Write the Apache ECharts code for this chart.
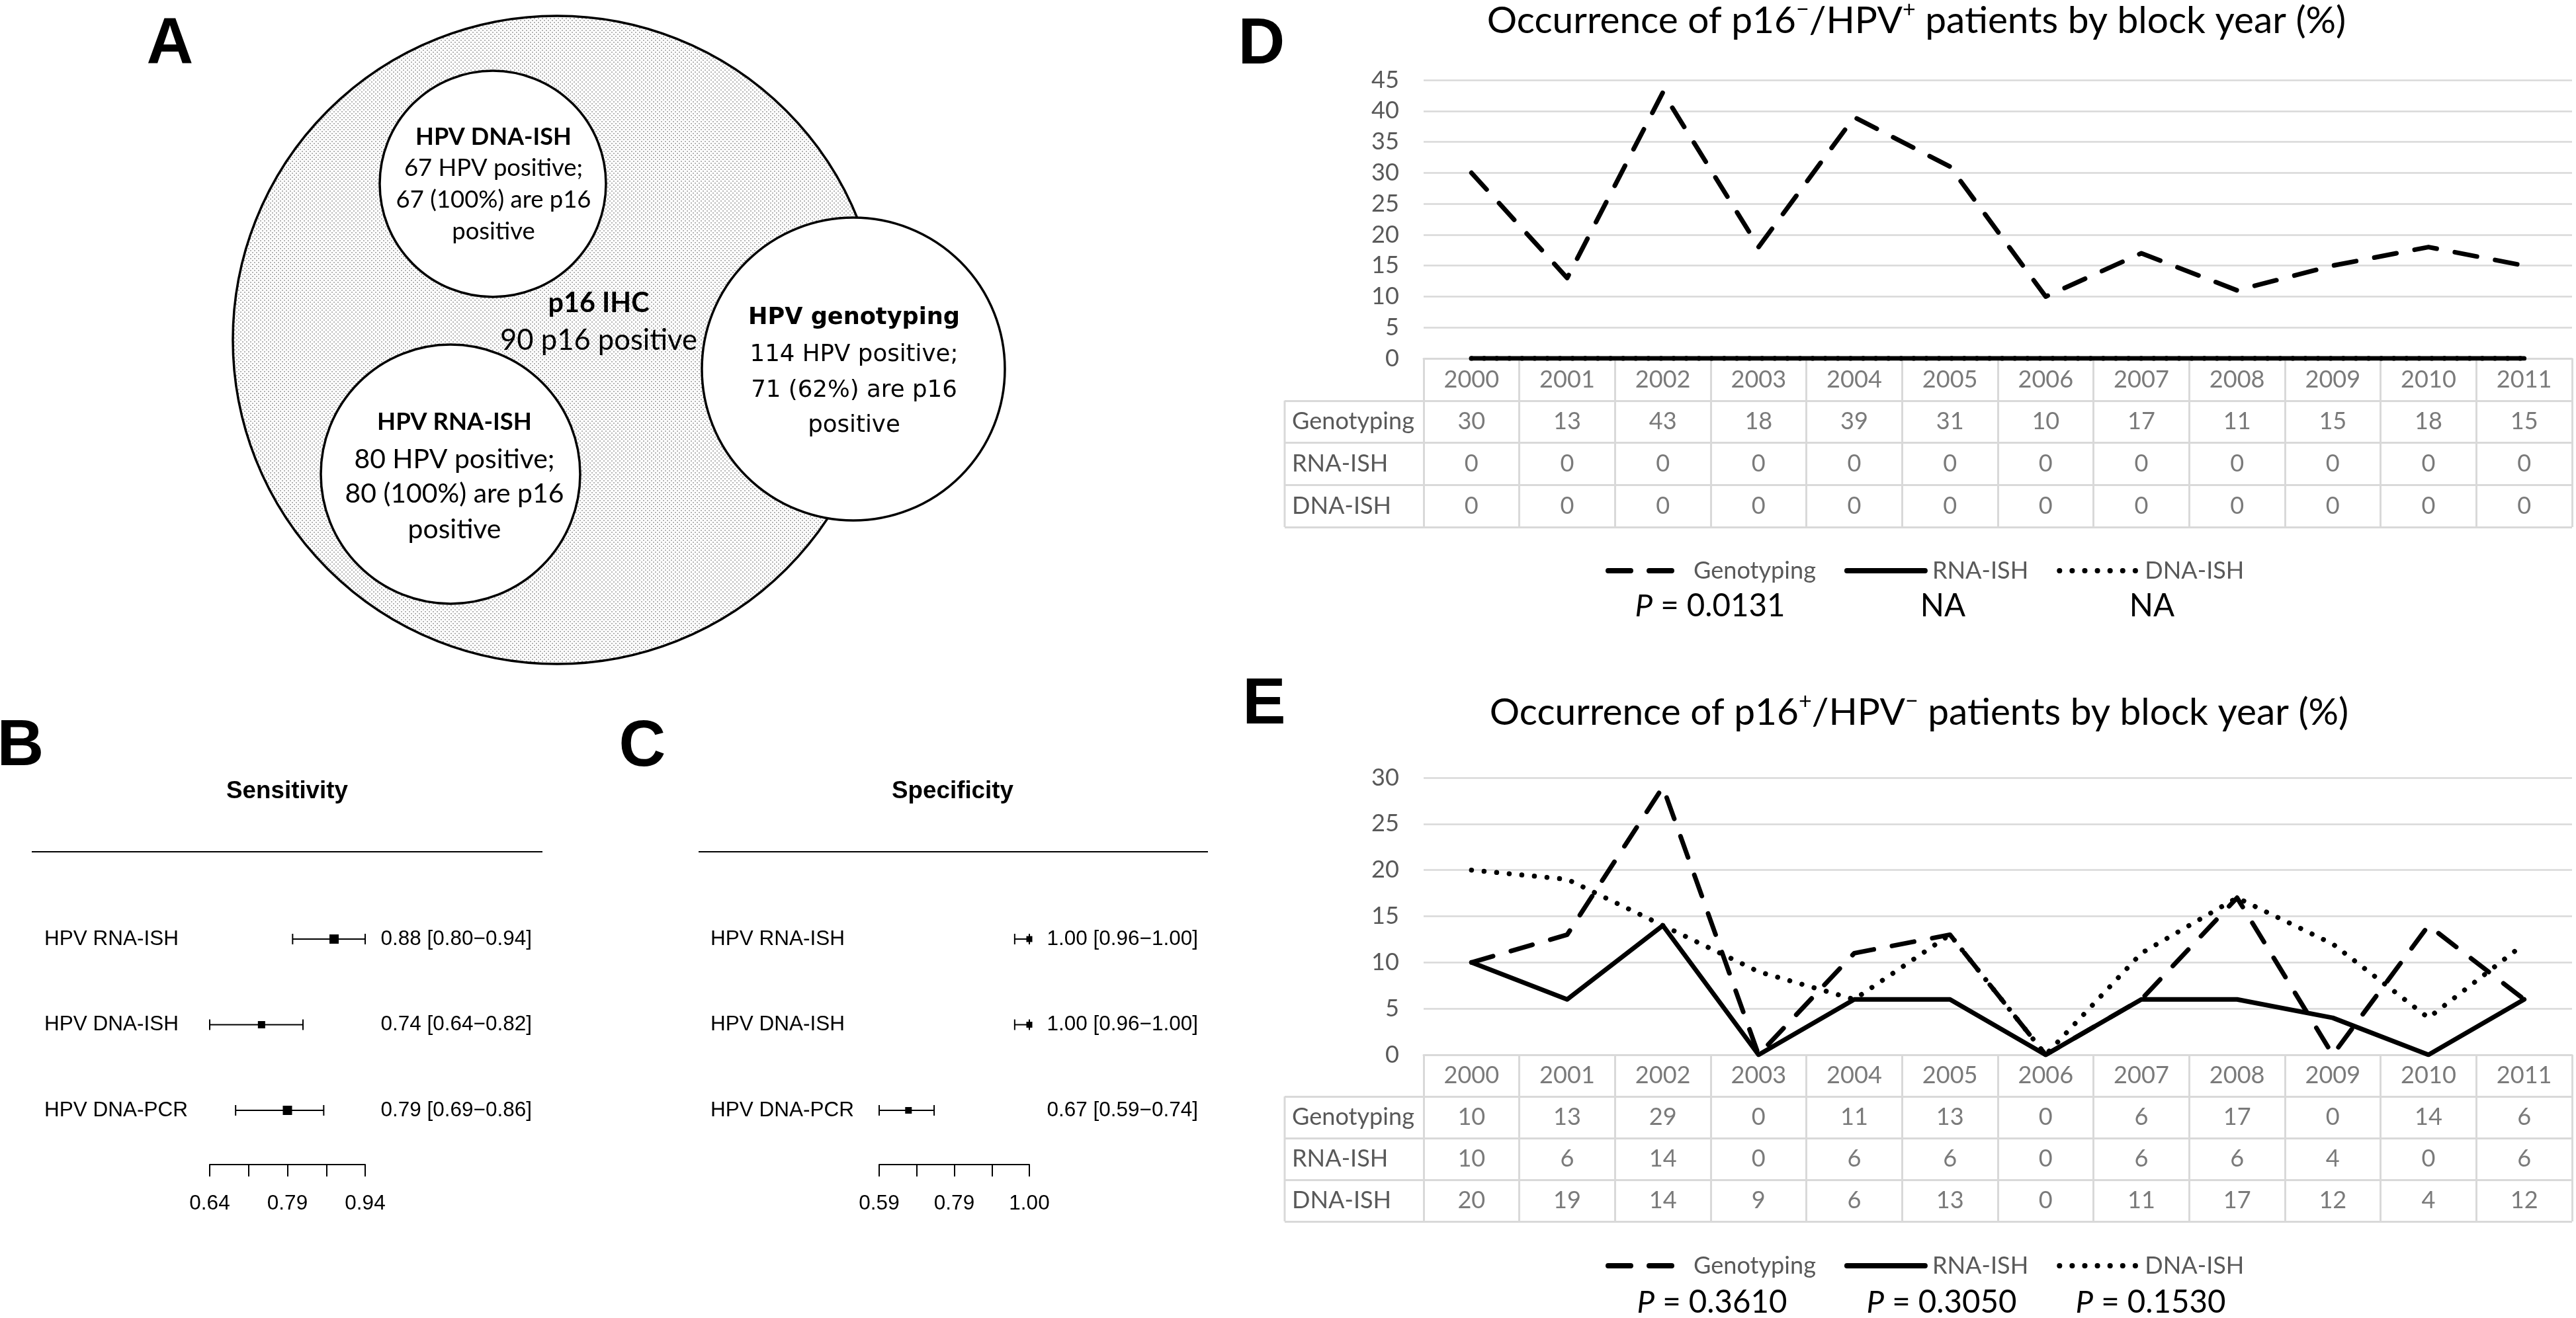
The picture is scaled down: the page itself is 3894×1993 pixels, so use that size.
<!DOCTYPE html>
<html><head><meta charset="utf-8">
<script src="https://cdn.jsdelivr.net/npm/echarts@6/dist/echarts.min.js"></script>
<style>html,body{margin:0;padding:0;background:#fff}#c{width:3894px;height:1993px}</style>
</head><body><div id="c"></div>
<script>
// ---------------- DATA ----------------
const years = ['2000','2001','2002','2003','2004','2005','2006','2007','2008','2009','2010','2011'];
const tableRows = ['Genotyping','RNA-ISH','DNA-ISH'];
// Panel D: p16-/HPV+ (%)
const dGenotyping = [30,13,43,18,39,31,10,17,11,15,18,15];
const dRNA = [0,0,0,0,0,0,0,0,0,0,0,0];
const dDNA = [0,0,0,0,0,0,0,0,0,0,0,0];
const dPValues = ['0.0131','NA','NA'];
// Panel E: p16+/HPV- (%)
const eGenotyping = [10,13,29,0,11,13,0,6,17,0,14,6];
const eRNA = [10,6,14,0,6,6,0,6,6,4,0,6];
const eDNA = [20,19,14,9,6,13,0,11,17,12,4,12];
const ePValues = ['0.3610','0.3050','0.1530'];
// Panels B / C: forest plots
const methods = ['HPV RNA-ISH','HPV DNA-ISH','HPV DNA-PCR'];
const sensEst = [0.88,0.74,0.79];
const sensLo  = [0.80,0.64,0.69];
const sensHi  = [0.94,0.82,0.86];
const specEst = [1.00,1.00,0.67];
const specLo  = [0.96,0.96,0.59];
const specHi  = [1.00,1.00,0.74];
const sensTickLabels = ['0.64','0.79','0.94'];
const specTickLabels = ['0.59','0.79','1.00'];
// Panel A: Venn texts
const vennDNA  = ['HPV DNA-ISH','67 HPV positive;','67 (100%) are p16','positive'];
const vennRNA  = ['HPV RNA-ISH','80 HPV positive;','80 (100%) are p16','positive'];
const vennGeno = ['HPV genotyping','114 HPV positive;','71 (62%) are p16','positive'];
const vennIHC  = ['p16 IHC','90 p16 positive'];

// ---------------- STYLE HELPERS ----------------
const LATO = "Lato, 'Open Sans', sans-serif";
const DV = "'DejaVu Sans', sans-serif";
const AR = "'Liberation Sans', Arial, sans-serif";
const GRID_GRAY = '#d9d9d9';
const TXT_GRAY = '#595959';
const mctx = document.createElement('canvas').getContext('2d');
function measure(text, family, weight, size) {
  mctx.font = (weight || 'normal') + ' ' + size + 'px ' + family;
  return mctx.measureText(text).width;
}
function fit(text, target, family, weight) {
  return 100 * target / measure(text, family, weight, 100);
}

// Venn sizes
const fsDNAb = fit(vennDNA[0], 236, LATO, 'bold');
const fsDNA  = fit(vennDNA[2], 295, LATO);
const fsRNAb = fit(vennRNA[0], 234, LATO, 'bold');
const fsRNA  = fit(vennRNA[2], 331, LATO);
const fsIHCb = fit(vennIHC[0], 153, LATO, 'bold');
const fsIHC  = fit(vennIHC[1], 298, LATO);
const fsGenb = fit(vennGeno[0], 320, DV, 'bold');
const fsGen  = fit(vennGeno[1], 315, DV);
// Forest sizes
const fsFor  = fit('HPV DNA-PCR', 217, AR);
const fsHead = fit('Sensitivity', 184, AR, 'bold');
// Line chart sizes
const fsTab  = fit('Genotyping', 185, LATO);
const fsP    = fit('P = 0.0131', 229, LATO);
const titleW = measure('Occurrence of p16/HPV patients by block year (%)', LATO, 'normal', 100) + 0.6 * measure('\u2212+', LATO, 'normal', 100);
const fsTitle = 100 * 1299 / titleW;

// dotted fill pattern for p16 IHC circle
const pat = document.createElement('canvas'); pat.width = 6; pat.height = 6;
const pc = pat.getContext('2d');
pc.fillStyle = '#fff'; pc.fillRect(0,0,6,6);
pc.fillStyle = '#b4b4b4'; pc.fillRect(0,0,2,2); pc.fillRect(3,3,2,2);

// ---------------- GRAPHIC (Venn, headings, titles, P-values) ----------------
const G = [];
function txt(x, y, text, size, family, weight, extra) {
  G.push({type:'text', x:x, y:y, silent:true, z:10, style:Object.assign({
    text:text, fontSize:size, fontFamily:family, fontWeight:weight || 'normal',
    fill:'#000', align:'center', verticalAlign:'middle'}, extra || {})});
}
const circ = (cx, cy, r, fill) => G.push({type:'circle', silent:true, shape:{cx:cx, cy:cy, r:r},
  style:{fill:fill, stroke:'#000', lineWidth:3.5}});
circ(842, 514, 490, {image:pat, repeat:'repeat'});
circ(745, 278, 171, '#fff');
circ(681, 717, 196, '#fff');
circ(1290, 558, 229, '#fff');
[207,254,302,350].forEach((y,i)=>txt(746, y, vennDNA[i], i ? fsDNA : fsDNAb, LATO, i ? 'normal' : 'bold'));
[638,695,747,801].forEach((y,i)=>txt(687, y, vennRNA[i], i ? fsRNA : fsRNAb, LATO, i ? 'normal' : 'bold'));
[481,537,591,644].forEach((y,i)=>txt(1291, y, vennGeno[i], i ? fsGen : fsGenb, DV, i ? 'normal' : 'bold'));
[459,515].forEach((y,i)=>txt(905, y, vennIHC[i], i ? fsIHC : fsIHCb, LATO, i ? 'normal' : 'bold'));

// panel letters
[['A',257,68],['B',31,1130],['C',971,1131],['D',1907,69],['E',1911,1067]].forEach(p=>txt(p[1], p[2], p[0], 98, AR, 'bold'));

// forest headings
txt(434, 1197, 'Sensitivity', fsHead, AR, 'bold');
txt(1440, 1197, 'Specificity', fsHead, AR, 'bold');
G.push({type:'line', silent:true, shape:{x1:48, y1:1288, x2:820, y2:1288}, style:{stroke:'#000', lineWidth:2}});
G.push({type:'line', silent:true, shape:{x1:1056, y1:1288, x2:1826, y2:1288}, style:{stroke:'#000', lineWidth:2}});

// chart titles with superscripts
const supRich = {s:{fontSize:fsTitle*0.6, fontFamily:LATO, verticalAlign:'top', lineHeight:fsTitle*0.6, fill:'#000'}};
txt(2897, 32, 'Occurrence of p16{s|\u2212}/HPV{s|+} patients by block year (%)', fsTitle, LATO, 'normal', {rich:supRich, lineHeight:fsTitle*1.2});
txt(2901, 1078, 'Occurrence of p16{s|+}/HPV{s|\u2212} patients by block year (%)', fsTitle, LATO, 'normal', {rich:supRich, lineHeight:fsTitle*1.2});

// P-values
const pRich = {i:{fontStyle:'italic', fontSize:fsP, fontFamily:LATO, fill:'#000'}};
const pText = v => v === 'NA' ? 'NA' : '{i|P} = ' + v;
[2585,2937,3253].forEach((x,i)=>txt(x, 917, pText(dPValues[i]), fsP, LATO, 'normal', {rich:pRich}));
[2588,2935,3251].forEach((x,i)=>txt(x, 1970, pText(ePValues[i]), fsP, LATO, 'normal', {rich:pRich}));

// left border of the data tables' label column
G.push({type:'line', silent:true, shape:{x1:1942, y1:542+255/4, x2:1942, y2:797}, style:{stroke:GRID_GRAY, lineWidth:3}});
G.push({type:'line', silent:true, shape:{x1:1942, y1:1595+252/4, x2:1942, y2:1847}, style:{stroke:GRID_GRAY, lineWidth:3}});

// ---------------- AXES ----------------
const forestRowMax = 341 / 129.5;
function forestX(gi, min, max, interval, labels) {
  return {gridIndex:gi, type:'value', position:'bottom', min:min, max:max, interval:interval,
    axisLine:{show:true, onZero:false, lineStyle:{color:'#000', width:2}},
    axisTick:{show:true, length:18, lineStyle:{color:'#000', width:2}},
    splitLine:{show:false},
    axisLabel:{margin:44, fontSize:fsFor, fontFamily:AR, color:'#000',
      formatter:(v,i)=> (i % 2 === 0 && labels[i/2]) ? labels[i/2] : ''}};
}
function forestY(gi, pos, margin, fmt) {
  return {gridIndex:gi, type:'value', position:pos, min:0, max:forestRowMax, interval:1, inverse:true,
    axisLine:{show:false, onZero:false}, axisTick:{show:false}, splitLine:{show:false},
    axisLabel:{margin:margin, align:pos === 'left' ? 'left' : 'right', fontSize:fsFor, fontFamily:AR, color:'#000',
      formatter:v => (Number.isInteger(v) && v < methods.length) ? fmt(v) : ''}};
}
const ciText = (e,l,h) => i => e[i].toFixed(2) + ' [' + l[i].toFixed(2) + '\u2212' + h[i].toFixed(2) + ']';

function chartX(gi) {
  return {gridIndex:gi, type:'category', data:years, boundaryGap:true,
    axisLine:{show:true, lineStyle:{color:GRID_GRAY, width:3}}, axisTick:{show:false},
    axisLabel:{show:false}, splitLine:{show:false}};
}
function tableX(gi) {
  return {gridIndex:gi, type:'category', data:years, position:'top', boundaryGap:true,
    axisLine:{show:false}, axisTick:{show:false}, axisLabel:{show:false},
    splitLine:{show:true, interval:0, lineStyle:{color:GRID_GRAY, width:3}}};
}
function chartY(gi, max) {
  return {gridIndex:gi, type:'value', min:0, max:max, interval:5,
    axisLine:{show:false}, axisTick:{show:false},
    axisLabel:{margin:37, fontSize:fsTab, fontFamily:LATO, color:TXT_GRAY},
    splitLine:{show:true, lineStyle:{color:GRID_GRAY, width:2.5}}};
}
function tableY(gi) {
  return {gridIndex:gi, type:'category', data:[''].concat(tableRows), inverse:true, boundaryGap:true,
    axisLine:{show:false},
    axisTick:{show:true, length:210, interval:(i)=> i > 0, lineStyle:{color:GRID_GRAY, width:3}},
    axisLabel:{interval:0, align:'left', margin:199, fontSize:fsTab, fontFamily:LATO, color:TXT_GRAY},
    splitLine:{show:true, interval:0, lineStyle:{color:GRID_GRAY, width:3}}};
}

// ---------------- SERIES ----------------
const lineStyles = {
  'Genotyping': {color:'#000', width:7, type:[34,28], cap:'round', join:'round'},
  'RNA-ISH':    {color:'#000', width:7, type:'solid', cap:'round', join:'round'},
  'DNA-ISH':    {color:'#000', width:7.5, type:[0.1,19], cap:'round', join:'round'}
};
function lineSeries(valuesList, xi, yi) {
  return tableRows.map((name,k)=>({
    type:'line', name:name, xAxisIndex:xi, yAxisIndex:yi, data:valuesList[k],
    symbol:'none', showSymbol:false, silent:true, lineStyle:lineStyles[name], itemStyle:{color:'#000'}
  }));
}
function tableSeries(valuesList, xi, yi) {
  const cells = [];
  years.forEach((y,c)=>cells.push([c, 0, y]));
  valuesList.forEach((arr,r)=>arr.forEach((v,c)=>cells.push([c, r+1, String(v)])));
  return {type:'scatter', xAxisIndex:xi, yAxisIndex:yi, data:cells, symbolSize:1, silent:true,
    itemStyle:{color:'rgba(0,0,0,0)'},
    label:{show:true, position:'inside', formatter:p=>String(p.value[2]), fontSize:fsTab, fontFamily:LATO, color:TXT_GRAY}};
}
function forestSeries(est, lo, hi, boxes, xi, yi) {
  return {type:'custom', xAxisIndex:xi, yAxisIndex:yi, clip:false, silent:true,
    data: est.map((e,i)=>[e, lo[i], hi[i], i]),
    encode:{x:[0,1,2], y:3},
    renderItem:function(params, api) {
      const r = api.value(3);
      const pe = api.coord([api.value(0), r]);
      const pl = api.coord([api.value(1), r]);
      const ph = api.coord([api.value(2), r]);
      const s = boxes[params.dataIndex];
      const cap = 8;
      const st = {stroke:'#000', lineWidth:2};
      return {type:'group', children:[
        {type:'line', shape:{x1:pl[0], y1:pl[1], x2:ph[0], y2:ph[1]}, style:st},
        {type:'line', shape:{x1:pl[0], y1:pl[1]-cap, x2:pl[0], y2:pl[1]+cap}, style:st},
        {type:'line', shape:{x1:ph[0], y1:ph[1]-cap, x2:ph[0], y2:ph[1]+cap}, style:st},
        {type:'rect', shape:{x:pe[0]-s/2, y:pe[1]-s/2, width:s, height:s}, style:{fill:'#000'}}
      ]};
    }};
}

const legendBase = (top) => ({top:top, left:2427, orient:'horizontal', padding:0, itemWidth:118, itemHeight:24,
  itemGap:43, selectedMode:false, data:tableRows,
  itemStyle:{color:'rgba(0,0,0,0)', borderWidth:0, opacity:0},
  lineStyle:{width:8},
  textStyle:{fontSize:fsTab, fontFamily:LATO, color:TXT_GRAY, padding:[0,0,0,6]}});

const option = {
  animation:false,
  backgroundColor:'#fff',
  grid:[
    {left:317, top:1420, width:235, height:341, outerBoundsMode:'none'},
    {left:1329, top:1420, width:227, height:341, outerBoundsMode:'none'},
    {left:2152, top:121, width:1736, height:421, outerBoundsMode:'none'},
    {left:2152, top:542, width:1736, height:255, outerBoundsMode:'none'},
    {left:2152, top:1176, width:1736, height:419, outerBoundsMode:'none'},
    {left:2152, top:1595, width:1736, height:252, outerBoundsMode:'none'}
  ],
  xAxis:[
    forestX(0, 0.64, 0.94, 0.075, sensTickLabels),
    forestX(1, 0.59, 1.00, 0.1025, specTickLabels),
    chartX(2), tableX(3), chartX(4), tableX(5)
  ],
  yAxis:[
    forestY(0, 'left', 250, i => methods[i]),
    forestY(0, 'right', 252, ciText(sensEst, sensLo, sensHi)),
    forestY(1, 'left', 255, i => methods[i]),
    forestY(1, 'right', 255, ciText(specEst, specLo, specHi)),
    chartY(2, 45), tableY(3), chartY(4, 30), tableY(5)
  ],
  legend:[legendBase(857-12), legendBase(1908-12)],
  series:[].concat(
    [forestSeries(sensEst, sensLo, sensHi, [14,11,14], 0, 0),
     forestSeries(specEst, specLo, specHi, [9,9,10], 1, 2)],
    lineSeries([dGenotyping, dRNA, dDNA], 2, 4),
    [tableSeries([dGenotyping, dRNA, dDNA], 3, 5)],
    lineSeries([eGenotyping, eRNA, eDNA], 4, 6),
    [tableSeries([eGenotyping, eRNA, eDNA], 5, 7)]
  ),
  graphic:{elements:G}
};
const chart = echarts.init(document.getElementById('c'), null, {renderer:'canvas', width:3894, height:1993});
chart.setOption(option);
</script>
</body></html>
